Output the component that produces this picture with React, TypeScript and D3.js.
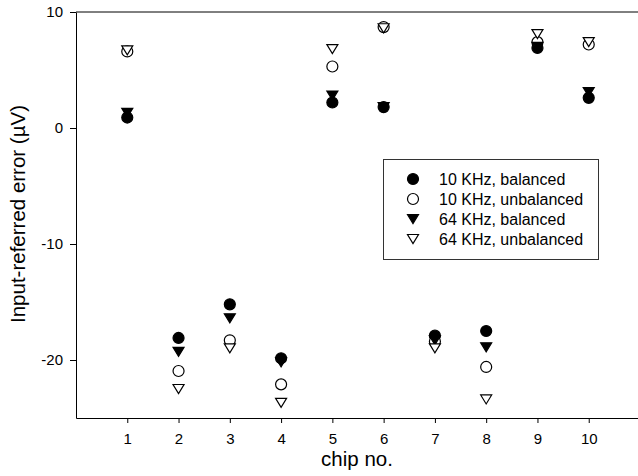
import React, { useRef, useEffect } from 'react';
import * as d3 from 'd3';

const chips = [1, 2, 3, 4, 5, 6, 7, 8, 9, 10];
const bal10 = [0.9, -18.1, -15.2, -19.85, 2.2, 1.8, -17.9, -17.5, 6.9, 2.6];
const unbal10 = [6.6, -20.95, -18.3, -22.1, 5.3, 8.7, -18.4, -20.6, 7.4, 7.2];
const bal64 = [1.3, -19.3, -16.4, -20.2, 2.8, 1.8, -18.3, -18.9, 7.0, 3.1];
const unbal64 = [6.7, -22.5, -19.0, -23.7, 6.8, 8.6, -19.0, -23.4, 8.1, 7.4];
const seriesNames = ['10 KHz, balanced', '10 KHz, unbalanced', '64 KHz, balanced', '64 KHz, unbalanced'];
const yTicks = [-20, -10, 0, 10];

function App() {
    const ref = useRef<SVGSVGElement>(null);

    useEffect(() => {
        const svg = d3.select(ref.current);
        svg.selectAll('*').remove();

        const x = d3.scaleLinear().domain([0, 11]).range([76, 640]);
        const y = d3.scaleLinear().domain([-25, 10]).range([418, 12]);

        const font = 'Arial, "Liberation Sans", sans-serif';

        // frame top line
        svg.append('line')
            .attr('x1', 76).attr('x2', 638)
            .attr('y1', 12).attr('y2', 12)
            .attr('stroke', 'black');

        const xAxis = svg.append('g')
            .attr('transform', 'translate(0,418)')
            .call(d3.axisBottom(x).tickValues(chips).tickSize(5).tickSizeOuter(0)
                .tickPadding(10).tickFormat(d => String(d)));
        xAxis.selectAll('text').attr('font-size', 15).attr('font-family', font);

        const yAxis = svg.append('g')
            .attr('transform', 'translate(76,0)')
            .call(d3.axisLeft(y).tickValues(yTicks).tickSize(6).tickSizeOuter(0)
                .tickPadding(7).tickFormat(d => String(d)));
        yAxis.selectAll('text').attr('font-size', 15).attr('font-family', font);
        svg.selectAll('.domain').attr('stroke', 'black');

        svg.append('text')
            .attr('x', 357).attr('y', 466)
            .attr('text-anchor', 'middle')
            .attr('font-family', font).attr('font-size', 20.5)
            .text('chip no.');

        svg.append('text')
            .attr('transform', 'translate(25,214) rotate(-90)')
            .attr('text-anchor', 'middle')
            .attr('font-family', font).attr('font-size', 20.5)
            .text('Input-referred error (\u00b5V)');

        const circle = d3.symbol().type(d3.symbolCircle).size(95);
        const tri = (cx: number, cy: number) => {
            const w = 5.5, h = 9;
            return `M${cx - w},${cy - h / 2}L${cx + w},${cy - h / 2}L${cx},${cy + h / 2}Z`;
        };

        const series = [
            { vals: bal10, shape: 'c', fill: 'black' },
            { vals: unbal10, shape: 'c', fill: 'white' },
            { vals: bal64, shape: 't', fill: 'black' },
            { vals: unbal64, shape: 't', fill: 'white' },
        ];

        const drawMark = (g: any, shape: string, fill: string, cx: number, cy: number) => {
            const p = g.append('path')
                .attr('fill', fill)
                .attr('stroke', 'black')
                .attr('stroke-width', 1.2);
            if (shape === 'c') {
                p.attr('d', circle()).attr('transform', `translate(${cx},${cy})`);
            } else {
                p.attr('d', tri(cx, cy));
            }
        };

        const marks = svg.append('g');
        series.forEach(s => {
            s.vals.forEach((v, i) => drawMark(marks, s.shape, s.fill, x(chips[i]), y(v)));
        });

        // legend
        const lg = svg.append('g');
        lg.append('rect')
            .attr('x', 383.5).attr('y', 159.5)
            .attr('width', 215).attr('height', 100)
            .attr('fill', 'white')
            .attr('stroke', '#333');
        series.forEach((s, i) => {
            const cy = 179 + i * 20;
            drawMark(lg, s.shape, s.fill, 413, cy);
            lg.append('text')
                .attr('x', 439).attr('y', cy)
                .attr('dy', '0.35em')
                .attr('font-family', font).attr('font-size', 16)
                .text(seriesNames[i]);
        });
    }, []);

    return (
        <svg ref={ref} width={638} height={476}
            style={{ position: 'absolute', left: 0, top: 0, background: 'white' }} />
    );
}

export default App;
